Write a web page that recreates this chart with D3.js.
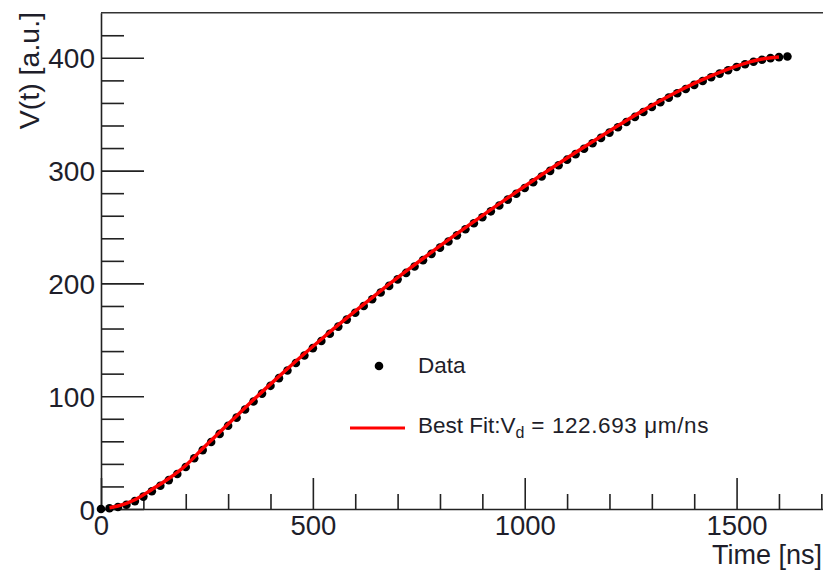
<!DOCTYPE html>
<html><head><meta charset="utf-8">
<script src="https://cdn.jsdelivr.net/npm/d3@7/dist/d3.min.js"></script>
<style>body{margin:0;background:#fff}svg{display:block}</style>
</head><body>
<svg id="c" width="823" height="570"></svg>
<script>
// Data points (Time [ns], V(t) [a.u.])
const dataT = [0,20,40,60,80,100,120,140,160,180,200,220,240,260,280,300,320,340,360,380,400,420,440,460,480,500,520,540,560,580,600,620,640,660,680,700,720,740,760,780,800,820,840,860,880,900,920,940,960,980,1000,1020,1040,1060,1080,1100,1120,1140,1160,1180,1200,1220,1240,1260,1280,1300,1320,1340,1360,1380,1400,1420,1440,1460,1480,1500,1520,1540,1560,1580,1600,1620];
const dataV = [0,0.6,1.8,3.8,7.0,11.0,15.8,20.6,25.6,31.0,37.2,45.0,52.2,59.4,66.6,73.8,81.0,88.2,95.3,102.3,109.2,116.0,122.8,129.5,136.1,142.6,149.0,155.4,161.7,167.9,174.0,180.0,186.0,191.9,197.8,203.6,209.3,215.0,220.6,226.2,231.7,237.2,242.6,248.0,253.3,258.6,263.9,269.1,274.3,279.5,284.6,289.7,294.8,299.8,304.8,309.7,314.6,319.4,324.2,329.0,333.7,338.4,343.1,347.6,352.0,356.4,360.6,364.7,368.6,372.4,376.0,379.5,382.8,386.0,389.0,391.8,394.3,396.5,398.3,399.7,400.6,401.2];
// Best fit curve
const fitT = [20,40,80,120,160,200,240,280,320,360,400,440,480,520,560,600,640,680,720,760,800,840,880,920,960,1000,1040,1080,1120,1160,1200,1240,1280,1320,1360,1400,1440,1480,1520,1560,1600];
const fitV = [1.2,2.6,8.2,17.3,27.0,38.6,53.6,68.0,82.5,96.8,110.7,124.3,137.6,150.5,163.2,175.5,187.5,199.3,210.8,222.1,233.2,244.1,254.8,265.4,275.8,286.1,296.3,306.3,316.1,325.7,335.2,344.5,353.4,361.9,369.9,377.3,384.0,390.0,395.1,398.9,400.8];
const xMajorTicks = [0,500,1000,1500];
const xMinorTicks = [100,200,300,400,600,700,800,900,1100,1200,1300,1400,1600,1700];
const yMajorTicks = [0,100,200,300,400];
const yMinorTicks = [20,40,60,80,120,140,160,180,220,240,260,280,320,340,360,380,420];
const xTitle = "Time [ns]";
const yTitle = "V(t) [a.u.]";
const legendData = "Data";
const legendFit = ["Best Fit:V", "d", " = 122.693 \u03bcm/ns"];

const FONT = "'Liberation Sans', Arial, sans-serif";
const svg = d3.select("#c");
const x = d3.scaleLinear().domain([0, 1800]).range([101, 863.7]);
const y = d3.scaleLinear().domain([0, 440]).range([509, 12.7]);

// frame top line
svg.append("line").attr("x1", 101).attr("x2", 863).attr("y1", y(440)).attr("y2", y(440))
  .attr("stroke", "#333").attr("stroke-width", 1.6);

function styleAxis(g) {
  g.selectAll("path,line").attr("stroke", "#222").attr("stroke-width", 1.6);
  g.selectAll("text").attr("font-family", FONT).attr("font-size", 28).attr("fill", "#1e1e2a");
}
// x axis
const gxMin = svg.append("g").attr("transform", "translate(0,509)")
  .call(d3.axisBottom(x).tickValues(xMinorTicks).tickSize(-15).tickSizeOuter(0).tickFormat(""));
gxMin.select(".domain").remove();
styleAxis(gxMin);
const gx = svg.append("g").attr("transform", "translate(0,509)")
  .call(d3.axisBottom(x).tickValues(xMajorTicks).tickSize(-31).tickSizeOuter(0).tickPadding(5).tickFormat(d3.format("d")));
gx.selectAll("text").attr("dy", null).attr("y", 25.5);
styleAxis(gx);
gx.selectAll("text").attr("font-size", 27.5);
// y axis
const gyMin = svg.append("g").attr("transform", "translate(101,0)")
  .call(d3.axisLeft(y).tickValues(yMinorTicks).tickSize(-23).tickSizeOuter(0).tickFormat(""));
gyMin.select(".domain").remove();
styleAxis(gyMin);
const gy = svg.append("g").attr("transform", "translate(101,0)")
  .call(d3.axisLeft(y).tickValues(yMajorTicks).tickSize(-43).tickSizeOuter(0).tickPadding(6).tickFormat(d3.format("d")));
styleAxis(gy);
gy.selectAll("text").attr("dy", "0.36em");

// titles
svg.append("text").attr("x", 822).attr("y", 564).attr("text-anchor", "end")
  .attr("font-family", FONT).attr("font-size", 27).attr("fill", "#1e1e2a").text(xTitle);
svg.append("text").attr("transform", "translate(39,12) rotate(-90)").attr("text-anchor", "end")
  .attr("font-family", FONT).attr("font-size", 28.5).attr("fill", "#1e1e2a").text(yTitle);

// data points
svg.append("g").selectAll("circle").data(dataT.map((t, i) => [t, dataV[i]])).join("circle")
  .attr("cx", d => x(d[0])).attr("cy", d => y(d[1])).attr("r", 4.3).attr("fill", "#000");

// fit line
svg.append("path").datum(fitT.map((t, i) => [t, fitV[i]]))
  .attr("d", d3.line().x(d => x(d[0])).y(d => y(d[1])).curve(d3.curveMonotoneX))
  .attr("fill", "none").attr("stroke", "#ff0000").attr("stroke-width", 3.5);

// legend
svg.append("circle").attr("cx", 379).attr("cy", 366).attr("r", 4.3).attr("fill", "#000");
svg.append("text").attr("x", 418).attr("y", 373).attr("font-family", FONT).attr("font-size", 22.5)
  .attr("fill", "#1e1e2a").text(legendData);
svg.append("line").attr("x1", 350).attr("x2", 405).attr("y1", 428).attr("y2", 428)
  .attr("stroke", "#ff0000").attr("stroke-width", 3);
const lt = svg.append("text").attr("x", 418).attr("y", 433).attr("font-family", FONT).attr("font-size", 22.5)
  .attr("fill", "#1e1e2a");
lt.append("tspan").text(legendFit[0]);
lt.append("tspan").attr("font-size", 16).attr("dy", 5).text(legendFit[1]);
lt.append("tspan").attr("dy", -5).attr("letter-spacing", 0.6).text(legendFit[2]);
</script>
</body></html>
